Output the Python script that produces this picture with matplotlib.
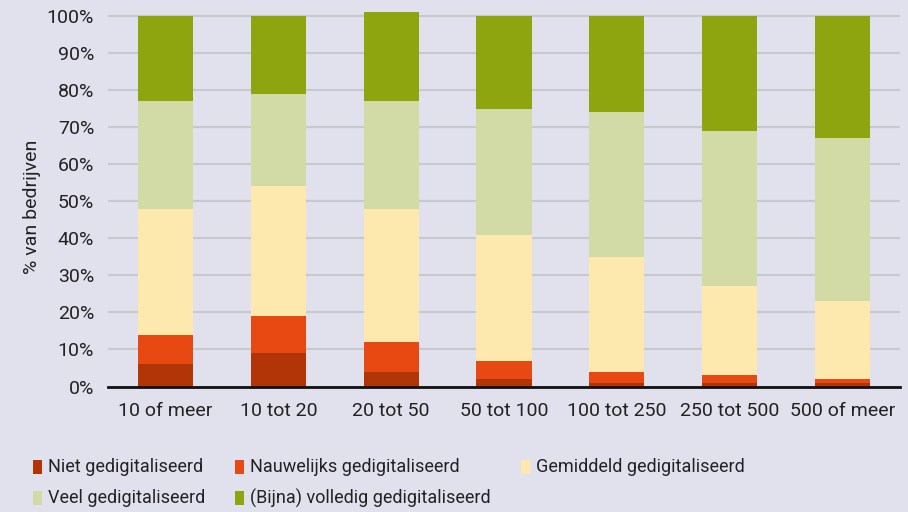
import numpy as np
import matplotlib
matplotlib.use("Agg")
import matplotlib.pyplot as plt
from matplotlib.patches import Rectangle

plt.rcParams['font.family'] = ['Roboto', 'DejaVu Sans']

# Data (percent of companies per size class)
categories = ['10 of meer', '10 tot 20', '20 tot 50', '50 tot 100',
              '100 tot 250', '250 tot 500', '500 of meer']
niet = [6, 9, 4, 2, 1, 1, 1]
nauwelijks = [8, 10, 8, 5, 3, 2, 1]
gemiddeld = [34, 35, 36, 34, 31, 24, 21]
veel = [29, 25, 29, 34, 39, 42, 44]
volledig = [23, 21, 24, 25, 26, 31, 33]

series_labels = ['Niet gedigitaliseerd', 'Nauwelijks gedigitaliseerd',
                 'Gemiddeld gedigitaliseerd', 'Veel gedigitaliseerd',
                 '(Bijna) volledig gedigitaliseerd']
colors = ['#B23508', '#E84811', '#FDE9AE', '#D2DAA6', '#8FA50F']

bg = '#E1E1ED'
W, H = 908, 512
fig = plt.figure(figsize=(W / 100, H / 100), dpi=100, facecolor=bg)
ax = fig.add_axes([0.119, 0.245, 0.872, 0.753], facecolor=bg)

x = np.arange(len(categories))
bottom = np.zeros(len(categories))
for vals, col in zip([niet, nauwelijks, gemiddeld, veel, volledig], colors):
    ax.bar(x, vals, bottom=bottom, width=0.49, color=col, zorder=3)
    bottom += np.array(vals)

ax.set_xlim(-0.51, 6.51)
ax.set_ylim(0, 104)
ax.set_yticks(np.arange(0, 101, 10))
ax.set_yticklabels([f'{v}%' for v in range(0, 101, 10)])
ax.set_xticks(x)
ax.set_xticklabels(categories)
ax.yaxis.grid(True, color='#C8C8CF', linewidth=1.5, zorder=0)
ax.tick_params(axis='both', length=0, labelsize=14, colors='#222222')
ax.tick_params(axis='x', pad=11)
ax.tick_params(axis='y', pad=10)
for s in ['top', 'right', 'left']:
    ax.spines[s].set_visible(False)
ax.spines['bottom'].set_color('#111111')
ax.spines['bottom'].set_linewidth(2)
ax.spines['bottom'].set_zorder(4)

ax.set_ylabel('% van bedrijven', fontsize=14, color='#222222')
ax.yaxis.set_label_coords(-0.085, 0.466)

# legend drawn as a two-row grid (row-wise order like the original)
renderer = fig.canvas.get_renderer()
leg_y = [467, 498]
texts = []
for i, (lab, col) in enumerate(zip(series_labels, colors)):
    r, c = divmod(i, 3)
    t = fig.text(0, 1 - leg_y[r] / H, lab, va='center', ha='left',
                 fontsize=13, color='#222222')
    texts.append((r, c, t, col))

col_x = [33]
for c in range(3):
    w = max(t.get_window_extent(renderer).width for r, cc, t, _ in texts if cc == c)
    col_x.append(col_x[-1] + 15 + w + 30)

for r, c, t, col in texts:
    px, py = col_x[c], leg_y[r]
    fig.patches.append(Rectangle((px / W, 1 - (py + 7) / H), 9 / W, 14 / H,
                                 transform=fig.transFigure, facecolor=col,
                                 edgecolor='none'))
    t.set_x((px + 15) / W)

fig.savefig('out.png', dpi=100, facecolor=bg)
